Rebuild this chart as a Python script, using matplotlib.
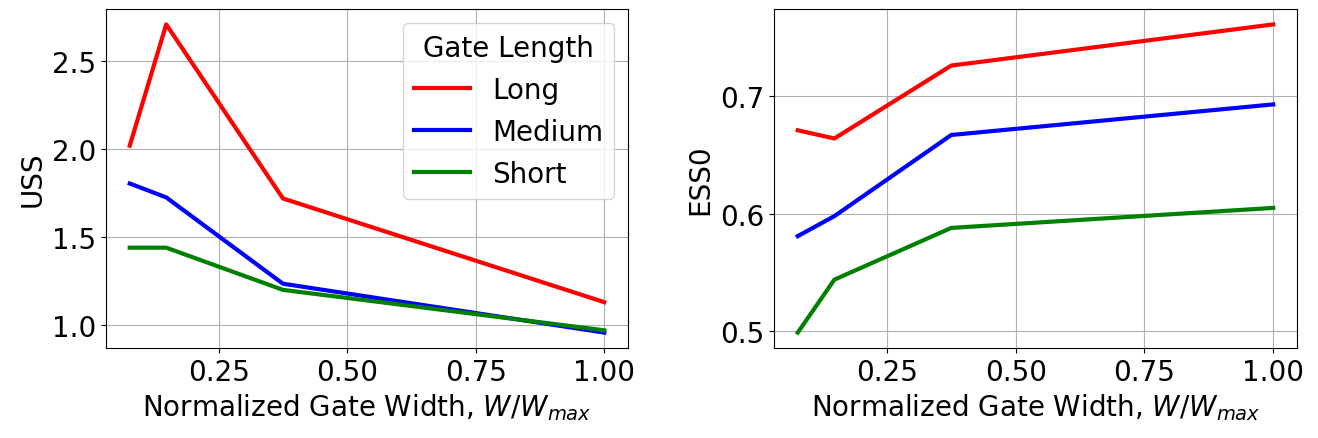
import matplotlib
matplotlib.use('Agg')
import matplotlib.pyplot as plt

# normalized gate width W/Wmax
width = [0.077, 0.148, 0.375, 1.0]
gate_lengths = ['Long', 'Medium', 'Short']
colors = ['red', 'blue', 'green']

uss = {
    'Long': [2.02, 2.71, 1.72, 1.13],
    'Medium': [1.805, 1.726, 1.235, 0.957],
    'Short': [1.44, 1.44, 1.20, 0.97],
}
ess0 = {
    'Long': [0.671, 0.664, 0.726, 0.761],
    'Medium': [0.581, 0.598, 0.667, 0.693],
    'Short': [0.499, 0.544, 0.588, 0.605],
}

plt.rcParams['font.size'] = 20

W, H = 1318, 439
fig = plt.figure(figsize=(W / 100, H / 100), dpi=100)
ax1 = fig.add_axes([106 / W, 1 - 349 / H, 522 / W, 339 / H])
ax2 = fig.add_axes([774 / W, 1 - 349 / H, 523 / W, 339 / H])

for name, c in zip(gate_lengths, colors):
    ax1.plot(width, uss[name], color=c, linewidth=3, label=name)
    ax2.plot(width, ess0[name], color=c, linewidth=3, label=name)

ax1.set_ylabel('USS')
ax2.set_ylabel('ESS0')
ax1.set_yticks([1.0, 1.5, 2.0, 2.5])
ax2.set_yticks([0.5, 0.6, 0.7])
for ax in (ax1, ax2):
    ax.set_xlabel('Normalized Gate Width, $W/W_{max}$')
    ax.set_xticks([0.25, 0.5, 0.75, 1.0])
    ax.grid(True)

ax1.legend(title='Gate Length', loc='upper right', title_fontsize=20)

fig.savefig('out.png', dpi=100)
